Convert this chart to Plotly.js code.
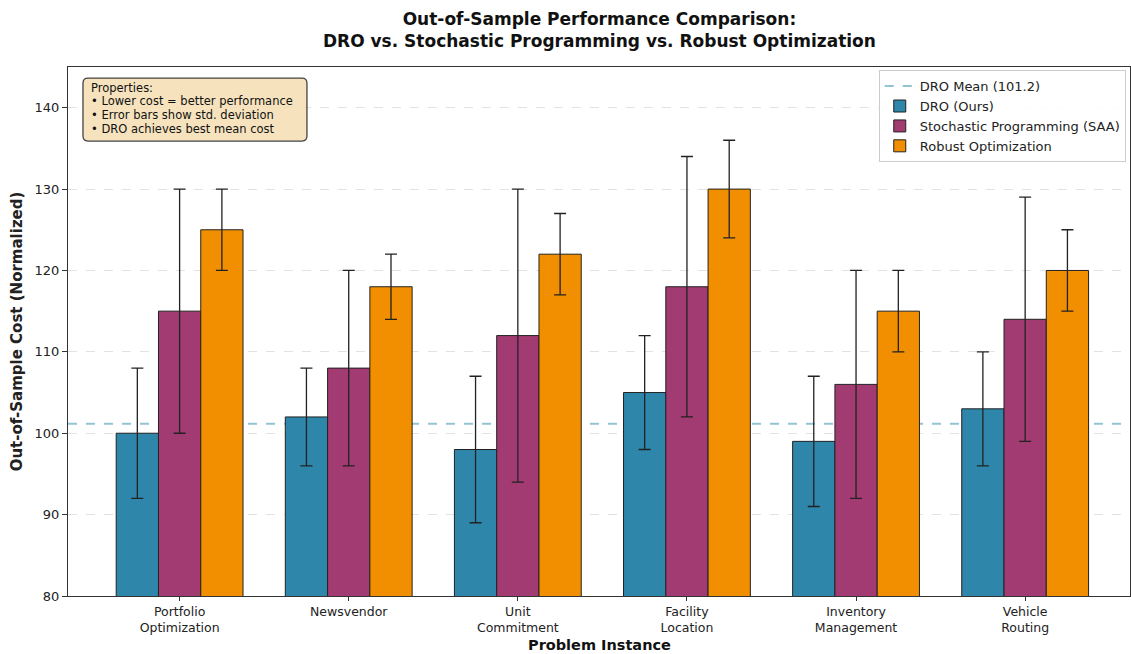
<!DOCTYPE html>
<html>
<head>
<meta charset="utf-8">
<script src="https://cdn.plot.ly/plotly-3.0.1.min.js"></script>
<style>html,body{margin:0;padding:0;background:#fff;}#chart{width:1131px;height:654px;}</style>
</head>
<body>
<div id="chart"></div>
<script>
const categories = ["Portfolio<br>Optimization", "Newsvendor", "Unit<br>Commitment", "Facility<br>Location", "Inventory<br>Management", "Vehicle<br>Routing"];
const droValues = [100, 102, 98, 105, 99, 103];
const droErrors = [8, 6, 9, 7, 8, 7];
const saaValues = [115, 108, 112, 118, 106, 114];
const saaErrors = [15, 12, 18, 16, 14, 15];
const roValues = [125, 118, 122, 130, 115, 120];
const roErrors = [5, 4, 5, 6, 5, 5];
const seriesNames = ["DRO (Ours)", "Stochastic Programming (SAA)", "Robust Optimization"];
const seriesColors = ["#2E86AB", "#A23B72", "#F18F01"];
const noteLines = ["Properties:", "• Lower cost = better performance", "• Error bars show std. deviation", "• DRO achieves best mean cost"];

const droMean = droValues.reduce((a, b) => a + b, 0) / droValues.length;
const xIdx = categories.map((_, i) => i);

function barTrace(vals, errs, k) {
  return {
    type: "bar", x: xIdx, y: vals, name: seriesNames[k],
    marker: {color: seriesColors[k], line: {color: "#222", width: 1}},
    error_y: {type: "data", array: errs, visible: true, color: "#222", thickness: 1.3, width: 6},
    hoverinfo: "y"
  };
}

const font = "DejaVu Sans, sans-serif";
const traces = [
  {type: "scatter", mode: "lines", x: [null], y: [null], name: "DRO Mean (" + droMean.toFixed(1) + ")",
   line: {color: "rgba(110,175,195,0.75)", width: 2, dash: "dash"}},
  barTrace(droValues, droErrors, 0),
  barTrace(saaValues, saaErrors, 1),
  barTrace(roValues, roErrors, 2)
];

const noteY = [0.9603, 0.9357, 0.9093, 0.8828];
const noteAnnotations = noteLines.map((t, i) => ({
  xref: "paper", yref: "paper", x: 0.0198, y: noteY[i], xanchor: "left", yanchor: "middle", align: "left",
  text: t, showarrow: false, font: {size: 11.5, color: "#111"}
}));
noteAnnotations.push({
  xref: "paper", yref: "paper", x: 0.5, y: -0.0926, xanchor: "center", yanchor: "middle",
  text: "<b>Problem Instance</b>", showarrow: false, font: {size: 14.5, color: "#111"}, borderpad: 0
});

const layout = {
  width: 1131, height: 654,
  margin: {l: 68, r: 1, t: 67, b: 58},
  paper_bgcolor: "#fff", plot_bgcolor: "#fff",
  font: {family: font, size: 13, color: "#222"},
  title: {text: "<b>Out-of-Sample Performance Comparison:<br>DRO vs. Stochastic Programming vs. Robust Optimization</b>",
          x: 0.53, xanchor: "center", yref: "container", y: 0.962, yanchor: "top", font: {family: font, size: 17, color: "#111"}},
  barmode: "group", bargap: 0.25, bargroupgap: 0,
  xaxis: {
    range: [-0.66, 5.62], tickvals: xIdx, ticktext: categories,
    showgrid: false, zeroline: false, showline: true, mirror: true, linecolor: "#333", linewidth: 1,
    ticks: "outside", ticklen: 4, tickcolor: "#333", tickfont: {size: 12.5}
  },
  yaxis: {
    range: [80, 145], tickvals: [80, 90, 100, 110, 120, 130, 140],
    showgrid: true, gridcolor: "#e2e2e2", griddash: "dash", gridwidth: 1, zeroline: false,
    showline: true, mirror: true, linecolor: "#333", linewidth: 1,
    ticks: "outside", ticklen: 5, tickcolor: "#333", tickfont: {size: 13},
    title: {text: "<b>Out-of-Sample Cost (Normalized)</b>", font: {size: 15}, standoff: 8}
  },
  legend: {x: 0.996, xanchor: "right", y: 0.994, yanchor: "top", bgcolor: "rgba(255,255,255,0.9)",
           bordercolor: "#ccc", borderwidth: 1, font: {size: 13}, tracegroupgap: 0, itemwidth: 30},
  shapes: [
    {type: "line", xref: "paper", x0: 0, x1: 1, yref: "y", y0: droMean, y1: droMean,
     line: {color: "rgba(110,175,195,0.75)", width: 2, dash: "dash"}, layer: "below"},
    {type: "path", xref: "paper", yref: "paper",
     path: "M 0.0188 0.979 L 0.2203 0.979 Q 0.225 0.979 0.225 0.9695 L 0.225 0.8695 Q 0.225 0.860 0.2203 0.860 L 0.0188 0.860 Q 0.0141 0.860 0.0141 0.8695 L 0.0141 0.9695 Q 0.0141 0.979 0.0188 0.979 Z",
     fillcolor: "rgba(245,222,179,0.85)", line: {color: "#444", width: 1.3}, layer: "above"}
  ],
  annotations: noteAnnotations
};

Plotly.newPlot("chart", traces, layout, {displayModeBar: false, staticPlot: true});
</script>
</body>
</html>
